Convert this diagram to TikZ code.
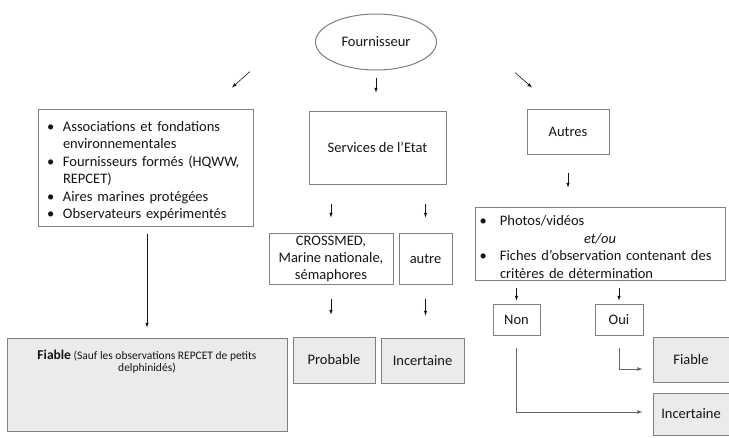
\documentclass[tikz,border=0pt]{standalone}
\usepackage{fontspec}
\setmainfont{Carlito}
\usetikzlibrary{shapes.geometric}
\definecolor{bord}{HTML}{7F7F7F}
\definecolor{fond}{HTML}{EBEBEB}
\definecolor{encre}{HTML}{151515}
% item with a hanging bullet
\newcommand{\puce}[2][16pt]{\par\noindent\hangindent=#1\hangafter=1\makebox[#1][l]{\textbullet}#2}
\begin{document}
\begin{tikzpicture}[x=1pt, y=-1pt,
        every node/.style={font=\fontsize{14.5}{17.5}\selectfont, text=encre},
        boite/.style={rectangle, draw=bord, line width=1pt, inner sep=0pt},
        resultat/.style={boite, fill=fond},
        fleche/.style={draw=encre, line width=0.6pt, -latex},
        coude/.style={draw=bord!80!black, line width=0.8pt, -latex}]
    \useasboundingbox (0,0) rectangle (729,437);

    % source
    \node [ellipse, draw=bord, line width=1pt, minimum width=121pt, minimum height=56pt, inner sep=0pt] (four) at (376,42) {Fournisseur};

    % three kinds of provider
    \node [boite, minimum width=215pt, minimum height=117pt, text width=197pt, inner xsep=9pt] (assoc) at (145.5,167.5) {\raggedright
        \puce{Associations et fondations\newline environnementales}
        \puce{Fournisseurs formés (HQWW,\newline REPCET)}
        \puce{Aires marines protégées}
        \puce{Observateurs expérimentés}\par};
    \node [boite, minimum width=137pt, minimum height=73pt] (etat) at (377.5,147.5) {Services de l’Etat};
    \node [boite, minimum width=82pt, minimum height=45pt] (autres) at (568,131.5) {Autres};

    % state services
    \node [boite, minimum width=124pt, minimum height=51pt, align=center, font=\fontsize{14.5}{17}\selectfont] (cross) at (331,258.5) {CROSSMED,\\Marine nationale,\\sémaphores};
    \node [boite, minimum width=53pt, minimum height=51pt] (autre) at (425.5,258.5) {autre};

    % others
    \node [boite, minimum width=250pt, minimum height=73pt, text width=241pt, inner xsep=4.5pt] (photos) at (600,243.5) {\raggedright
        \puce[20.5pt]{Photos/vidéos}\par
        {\centering\itshape et/ou\par}
        \puce[20.5pt]{Fiches d’observation contenant des\newline critères de détermination}\par};
    \node [boite, minimum width=47pt, minimum height=31pt] (non) at (516.5,319.5) {Non};
    \node [boite, minimum width=48pt, minimum height=31pt] (oui) at (619,319.5) {Oui};

    % reliability
    \node [resultat] (fiableG) at (147,384.5) {\parbox[c][93pt][t]{280pt}{\centering\vspace{12pt}%
        {\fontsize{11.5}{12}\selectfont\textbf{\fontsize{13.5}{12}\selectfont Fiable} (Sauf les observations REPCET de petits\\ delphinidés)\par}}};
    \node [resultat, minimum width=82pt, minimum height=46pt] (prob) at (334,360) {Probable};
    \node [resultat, minimum width=83pt, minimum height=45pt] (incM) at (422.5,360.5) {Incertaine};
    \node [resultat, minimum width=76pt, minimum height=45pt] (fiableD) at (691,359.5) {Fiable};
    \node [resultat, minimum width=76pt, minimum height=42pt] (incD) at (691,414) {Incertaine};

    % arrows
    \path (four.south) ++(-126,1) coordinate (gA) ++(-18,16) coordinate (gB);
    \path (four.south) ++(139,2) coordinate (dA) ++(17,15) coordinate (dB);
    \draw [fleche] (gA) -- (gB);
    \draw [fleche] (dA) -- (dB);
    \draw [fleche, shorten <=7pt, shorten >=18pt] (four.south) -- (four.south |- etat.north);

    \draw [fleche, shorten <=7pt, shorten >=10pt] (fiableG.north |- assoc.south) -- (fiableG.north);
    \draw [fleche, shorten <=19pt, shorten >=15pt] (etat.south -| cross.north) -- (cross.north);
    \draw [fleche, shorten <=19pt, shorten >=15pt] (etat.south -| autre.north) -- (autre.north);
    \draw [fleche, shorten <=14pt, shorten >=22pt] (cross.south) -- (cross.south |- prob.north);
    \draw [fleche, shorten <=14pt, shorten >=22pt] (autre.south) -- (autre.south |- incM.north);

    \draw [fleche, shorten <=18pt, shorten >=19pt] (autres.south) -- (autres.south |- photos.north);
    \draw [fleche, shorten <=7pt, shorten >=3pt] (photos.south -| non.north) -- (non.north);
    \draw [fleche, shorten <=7pt, shorten >=3pt] (photos.south -| oui.north) -- (oui.north);
    \draw [coude, shorten <=12pt, shorten >=10pt] (oui.south) |- ([yshift=-9.5pt]fiableD.west);
    \draw [coude, shorten <=12pt, shorten >=10pt] (non.south) |- ([yshift=2pt]incD.west);
\end{tikzpicture}
\end{document}
